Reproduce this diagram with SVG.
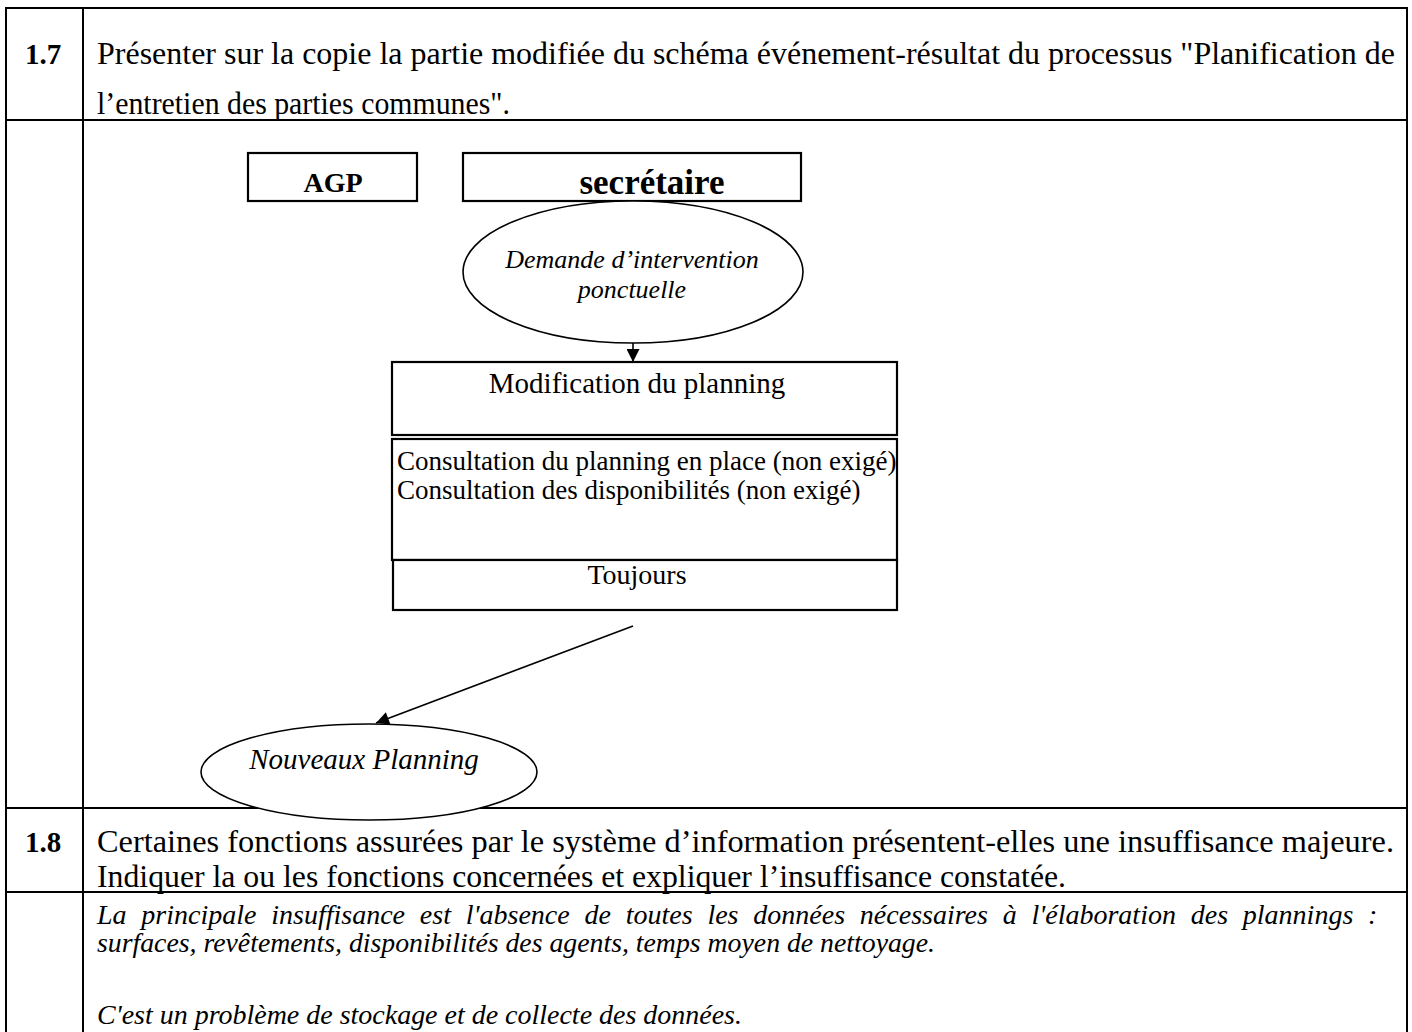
<svg xmlns="http://www.w3.org/2000/svg" width="1412" height="1032" viewBox="0 0 1412 1032">
<style>
.t{font-family:"Liberation Serif","Times New Roman",serif;fill:#000}
.b{font-weight:bold}
.i{font-style:italic}
.ln{stroke:#000;stroke-width:2;fill:none}
.bx{stroke:#000;stroke-width:2.2;fill:#fff}
.el{stroke:#000;stroke-width:1.6;fill:#fff}
.cn{stroke:#000;stroke-width:1.6;fill:none}
</style>
<defs>
<marker id="ah" viewBox="0 0 10 10" refX="10" refY="5" markerWidth="15" markerHeight="13" markerUnits="userSpaceOnUse" orient="auto">
<path d="M0,0 L10,5 L0,10 Z" fill="#000"/>
</marker>
</defs>
<rect width="1412" height="1032" fill="#fff"/>
<g id="table">
<line class="ln" x1="6" y1="8" x2="6" y2="1032"/>
<line class="ln" x1="83" y1="8" x2="83" y2="1032"/>
<line class="ln" x1="1407" y1="8" x2="1407" y2="1032"/>
<line class="ln" x1="5" y1="8" x2="1408" y2="8"/>
<line class="ln" x1="5" y1="120" x2="1408" y2="120"/>
<line class="ln" x1="5" y1="808" x2="1408" y2="808"/>
<line class="ln" x1="5" y1="892" x2="1408" y2="892"/>
</g>
<g id="q17">
<text class="t b" x="43" y="64" font-size="29" text-anchor="middle">1.7</text>
<text class="t" x="97" y="64" font-size="31" textLength="1298" lengthAdjust="spacingAndGlyphs">Présenter sur la copie la partie modifiée du schéma événement-résultat du processus "Planification de</text>
<text class="t" x="97" y="114" font-size="31" textLength="413" lengthAdjust="spacingAndGlyphs">l’entretien des parties communes".</text>
</g>
<g id="agp">
<rect class="bx" x="248" y="153" width="169" height="48"/>
<text class="t b" x="333" y="192" font-size="28" text-anchor="middle">AGP</text>
</g>
<g id="secretaire">
<rect class="bx" x="463" y="153" width="338" height="48"/>
<text class="t b" x="652" y="194" font-size="35" text-anchor="middle">secrétaire</text>
</g>
<g id="demande">
<ellipse class="el" cx="633" cy="272" rx="170" ry="71"/>
<text class="t i" x="632" y="268" font-size="26" text-anchor="middle">Demande d’intervention</text>
<text class="t i" x="632" y="298" font-size="26" text-anchor="middle">ponctuelle</text>
</g>
<g id="modification">
<rect class="bx" x="392" y="362" width="505" height="73"/>
<text class="t" x="637" y="393" font-size="29" text-anchor="middle">Modification du planning</text>
</g>
<g id="consultation">
<rect class="bx" x="392" y="439" width="505" height="121"/>
<text class="t" x="397" y="470" font-size="27">Consultation du planning en place (non exigé)</text>
<text class="t" x="397" y="499" font-size="27">Consultation des disponibilités (non exigé)</text>
</g>
<g id="toujours">
<rect class="bx" x="393" y="560" width="504" height="50"/>
<text class="t" x="637" y="584" font-size="28" text-anchor="middle">Toujours</text>
</g>
<g id="connectors">
<line class="cn" x1="633" y1="343" x2="633" y2="362" marker-end="url(#ah)"/>
<line class="cn" x1="633" y1="626" x2="376" y2="723" marker-end="url(#ah)"/>
</g>
<g id="nouveaux">
<ellipse class="el" cx="369" cy="772" rx="168" ry="48"/>
<text class="t i" x="364" y="769" font-size="29" text-anchor="middle">Nouveaux Planning</text>
</g>
<g id="q18">
<text class="t b" x="43" y="852" font-size="29" text-anchor="middle">1.8</text>
<text class="t" x="97" y="852" font-size="31" textLength="1297" lengthAdjust="spacingAndGlyphs">Certaines fonctions assurées par le système d’information présentent-elles une insuffisance majeure.</text>
<text class="t" x="97" y="887" font-size="31" textLength="969" lengthAdjust="spacingAndGlyphs">Indiquer la ou les fonctions concernées et expliquer l’insuffisance constatée.</text>
</g>
<g id="answer">
<text class="t i" x="97" y="924" font-size="28" word-spacing="7.8">La principale insuffisance est l'absence de toutes les données nécessaires à l'élaboration des plannings :</text>
<text class="t i" x="97" y="952" font-size="28" textLength="838" lengthAdjust="spacingAndGlyphs">surfaces, revêtements, disponibilités des agents, temps moyen de nettoyage.</text>
<text class="t i" x="97" y="1024" font-size="28" textLength="645" lengthAdjust="spacingAndGlyphs">C'est un problème de stockage et de collecte des données.</text>
</g>
</svg>
